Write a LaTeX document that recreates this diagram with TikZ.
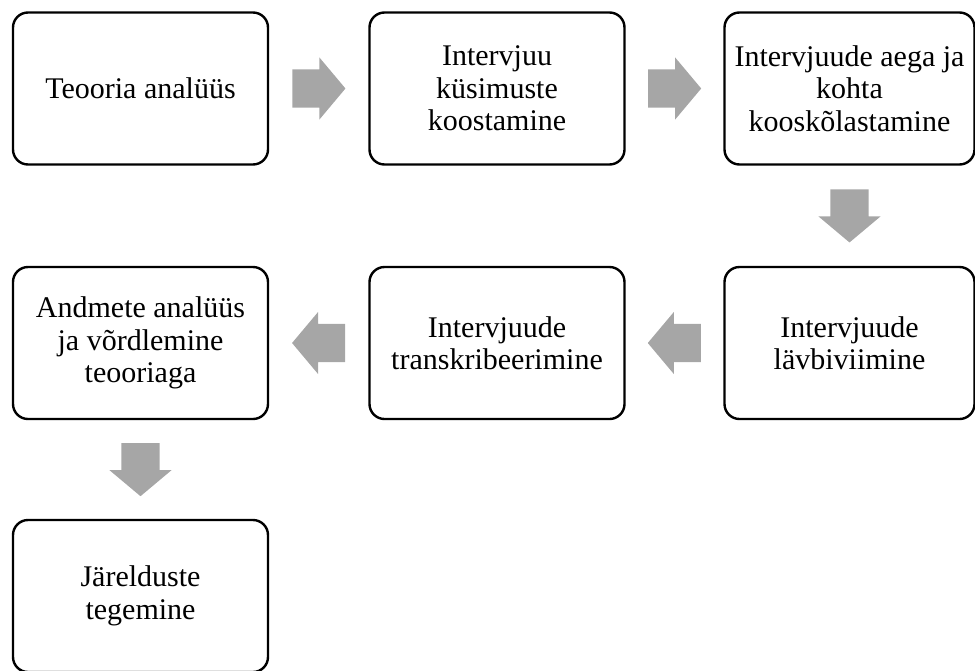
\documentclass[tikz,border=0pt]{standalone}
\usepackage{fontspec}
\setmainfont{Liberation Serif}
\usetikzlibrary{shapes.arrows, positioning, calc}
\definecolor{Flow_Gray}{HTML}{A6A6A6}

\begin{document}
\begin{tikzpicture}[
    x=1pt, y=-1pt,
    stage/.style={
        draw=black,
        line width=2.4pt,
        rounded corners=15pt,
        minimum width=255pt,
        minimum height=152pt,
        align=center,
        font=\fontsize{30}{32.5}\selectfont
    },
    flow/.style={
        single arrow,
        fill=Flow_Gray,
        draw=none,
        anchor=tail,
        inner xsep=0pt,
        inner ysep=19pt,
        minimum height=53pt,
        single arrow head extend=12pt,
        single arrow tip angle=100
    },
    flowdown/.style={
        flow,
        shape border rotate=270,
        inner xsep=19pt,
        inner ysep=0pt
    }
]
\useasboundingbox (0,0) rectangle (975,670);

\node[stage] (teooria) at (140.5,88.5) {Teooria analüüs};
\node[stage] (kysimused) at (497,88.5) {Intervjuu\\küsimuste\\koostamine};
\node[stage, minimum width=250pt] (kooskola) at (849.5,88.5) {Intervjuude aega ja\\kohta\\kooskõlastamine};
\node[stage, minimum width=250pt] (labiviimine) at (849.5,343) {Intervjuude\\lävbiviimine};
\node[stage] (transkr) at (497,343) {Intervjuude\\transkribeerimine};
\node[stage] (andmed) at (140.5,343) {Andmete analüüs\\ja võrdlemine\\teooriaga};
\node[stage] (jareldus) at (140.5,596) {Järelduste\\tegemine};

\node[flow] (f1) at ($(teooria.east)!0.5!(kysimused.west)+(-26.5,0)$) {};
\node[flow] (f2) at ($(kysimused.east)!0.5!(kooskola.west)+(-26.5,0)$) {};
\node[flowdown] (f3) at ($(kooskola.south)!0.5!(labiviimine.north)+(0,-26.5)$) {};
\node[flow, shape border rotate=180] (f4) at ($(labiviimine.west)!0.5!(transkr.east)+(26.5,0)$) {};
\node[flow, shape border rotate=180] (f5) at ($(transkr.west)!0.5!(andmed.east)+(26.5,0)$) {};
\node[flowdown] (f6) at ($(andmed.south)!0.5!(jareldus.north)+(0,-26.5)$) {};
\end{tikzpicture}
\end{document}
